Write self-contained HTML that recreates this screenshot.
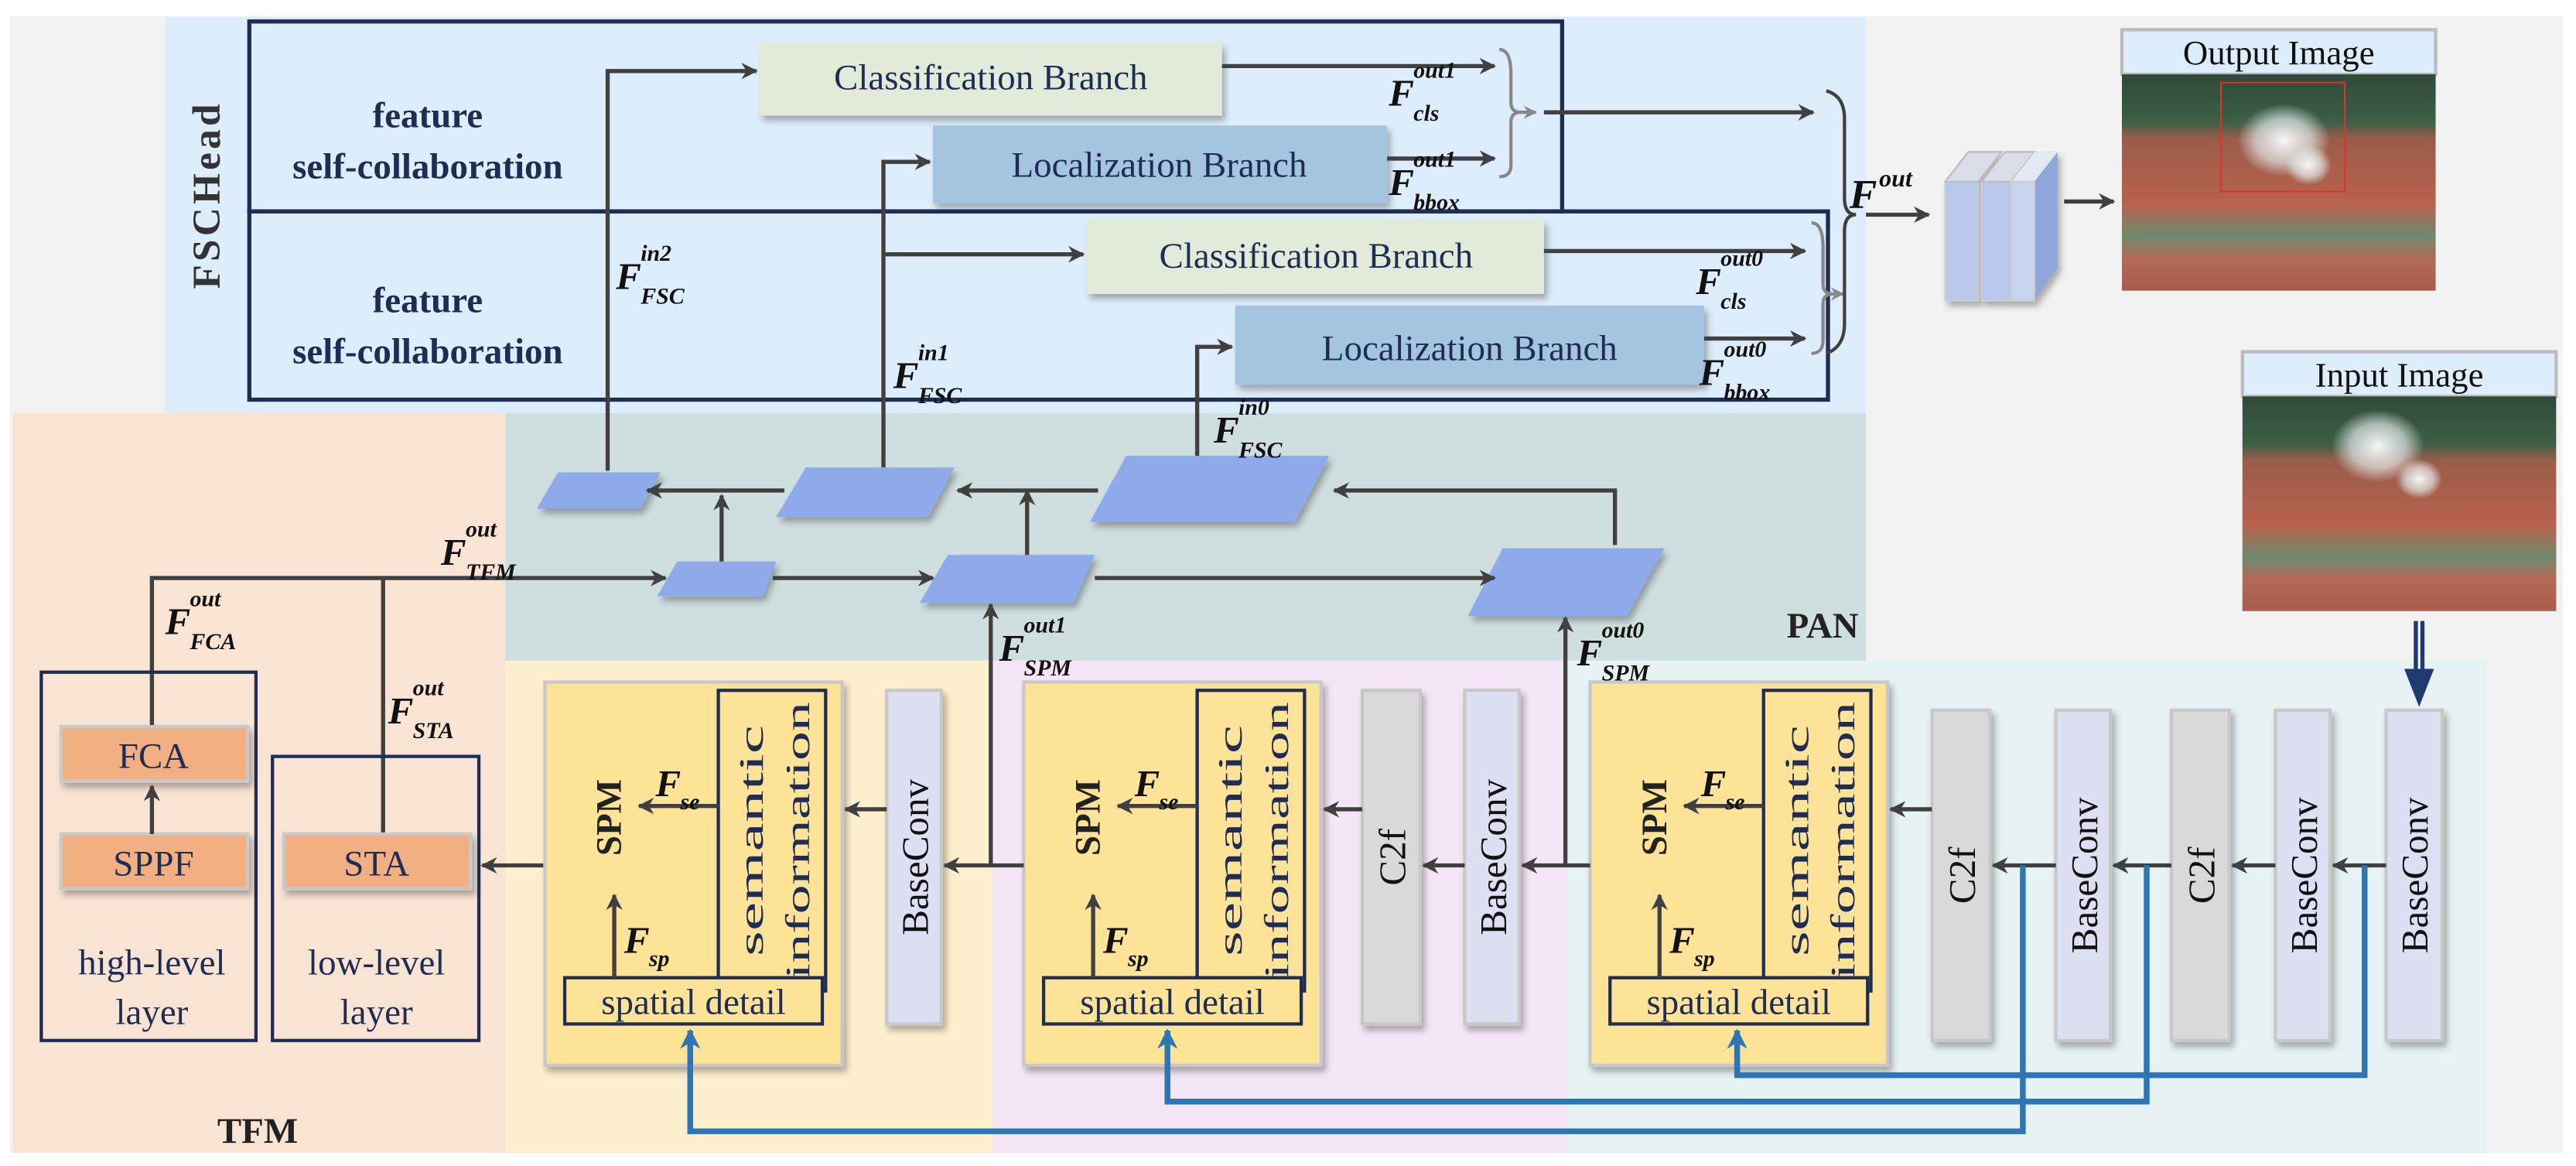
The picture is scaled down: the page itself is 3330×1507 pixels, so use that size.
<!DOCTYPE html>
<html><head><meta charset="utf-8"><style>
html,body{margin:0;padding:0;background:#fff}
svg{display:block}
svg text{font-family:"Liberation Serif","DejaVu Serif",serif}
.m{font-style:italic;font-weight:bold;fill:#111}
</style></head><body>
<svg width="3330" height="1507" viewBox="0 0 1560 706" preserveAspectRatio="none" xmlns="http://www.w3.org/2000/svg" font-family="Liberation Serif, DejaVu Serif, serif">
<defs>
<marker id="a" viewBox="0 0 10 10" refX="9" refY="5" markerWidth="4" markerHeight="4" orient="auto-start-reverse"><path d="M0,0 L10,5 L0,10 L3,5 z" fill="#404040"/></marker>
<marker id="g" viewBox="0 0 10 10" refX="9" refY="5" markerWidth="4" markerHeight="4" orient="auto"><path d="M0,0 L10,5 L0,10 L3,5 z" fill="#888"/></marker>
<marker id="b" viewBox="0 0 10 10" refX="9" refY="5" markerWidth="3.5" markerHeight="3.5" orient="auto"><path d="M0,0 L10,5 L0,10 L3,5 z" fill="#2e75b6"/></marker>
<filter id="s" x="-10%" y="-10%" width="130%" height="130%"><feDropShadow dx="2" dy="3" stdDeviation="2" flood-color="#000" flood-opacity="0.3"/></filter>
<linearGradient id="ph" x1="0" y1="0" x2="0" y2="1">
<stop offset="0" stop-color="#2f4a3a"/><stop offset="0.22" stop-color="#3c5f45"/><stop offset="0.3" stop-color="#9a5c4a"/><stop offset="0.6" stop-color="#b8624d"/><stop offset="0.75" stop-color="#6e8a6e"/><stop offset="0.85" stop-color="#b26a55"/><stop offset="1" stop-color="#a85d4d"/></linearGradient>
<radialGradient id="sm"><stop offset="0" stop-color="#fff" stop-opacity="0.95"/><stop offset="0.6" stop-color="#dfe6e6" stop-opacity="0.7"/><stop offset="1" stop-color="#dfe6e6" stop-opacity="0"/></radialGradient>
</defs>
<rect width="1560" height="706" fill="#fff"/>
<rect x="6" y="10" width="1546" height="688" fill="#f2f2f2"/>
<rect x="100" y="10" width="1030" height="240" fill="#deedfb"/>
<rect x="8" y="250" width="298" height="448" fill="#f9e4d4"/>
<rect x="306" y="250" width="824" height="150" fill="#cfdedf"/>
<rect x="306" y="400" width="295" height="298" fill="#fdf0cf"/>
<rect x="601" y="400" width="348" height="298" fill="#f4e6f6"/>
<rect x="949" y="400" width="557" height="298" fill="#e7f2f4"/>

<text transform="translate(133,118) rotate(-90)" text-anchor="middle" font-size="24" font-weight="bold" fill="#333" letter-spacing="2">FSCHead</text>

<rect x="151" y="13" width="795" height="115" fill="none" stroke="#1f2d55" stroke-width="2.5"/>
<rect x="151" y="128" width="956" height="114" fill="none" stroke="#1f2d55" stroke-width="2.5"/>
<g font-size="22" font-weight="bold" text-anchor="middle" fill="#1f2d55">
<text x="259" y="77">feature</text><text x="259" y="108">self-collaboration</text>
<text x="259" y="189">feature</text><text x="259" y="220">self-collaboration</text>
</g>
<g filter="url(#s)">
<rect x="460" y="26" width="280" height="44" fill="#e2ebda"/>
<rect x="565" y="76" width="275" height="47" fill="#a3c5df"/>
<rect x="658" y="133" width="277" height="45" fill="#e2ebda"/>
<rect x="748" y="185" width="284" height="48" fill="#a3c5df"/>
</g>
<g font-size="22" fill="#1f2d55" text-anchor="middle">
<text x="600" y="54">Classification Branch</text>
<text x="702" y="107">Localization Branch</text>
<text x="797" y="162">Classification Branch</text>
<text x="890" y="218">Localization Branch</text>
</g>
<g stroke="#404040" stroke-width="2.5" fill="none">
<path d="M368,285 V43 H458" marker-end="url(#a)"/>
<path d="M535,283 V98 H563" marker-end="url(#a)"/>
<path d="M535,154 H656" marker-end="url(#a)"/>
<path d="M725,276 V210 H746" marker-end="url(#a)"/>
<path d="M740,40 H905" marker-end="url(#a)"/>
<path d="M840,96 H905" marker-end="url(#a)"/>
<path d="M935,68 H1098" marker-end="url(#a)"/>
<path d="M935,152 H1093" marker-end="url(#a)"/>
<path d="M1032,205 H1093" marker-end="url(#a)"/>
<path d="M1130,130 H1168" marker-end="url(#a)"/>
<path d="M1250,122 H1280" marker-end="url(#a)"/>
</g>
<g stroke="#888" stroke-width="2" fill="none">
<path d="M908,30 Q915,30 915,45 V62 Q915,68 921,68 Q915,68 915,74 V100 Q915,107 908,107"/>
<path d="M921,68 H930" marker-end="url(#g)"/>
<path d="M1097,135 Q1104,135 1104,150 V172 Q1104,178 1110,178 Q1104,178 1104,184 V206 Q1104,214 1097,214"/>
<path d="M1110,178 H1116" marker-end="url(#g)"/>
</g>
<path d="M1106,55 Q1117,58 1117,72 V120 Q1117,130 1124,130 Q1117,130 1117,140 V196 Q1117,210 1106,214" stroke="#404040" stroke-width="2" fill="none"/>
<g>
<text x="841" y="64" font-size="23" class="m">F</text><text x="856" y="47" font-size="14" class="m">out1</text><text x="856" y="73" font-size="14" class="m">cls</text>
<text x="841" y="118" font-size="23" class="m">F</text><text x="856" y="101" font-size="14" class="m">out1</text><text x="856" y="127" font-size="14" class="m">bbox</text>
<text x="1027" y="178" font-size="23" class="m">F</text><text x="1042" y="161" font-size="14" class="m">out0</text><text x="1042" y="187" font-size="14" class="m">cls</text>
<text x="1029" y="233" font-size="23" class="m">F</text><text x="1044" y="216" font-size="14" class="m">out0</text><text x="1044" y="242" font-size="14" class="m">bbox</text>
<text x="1120" y="126" font-size="25" class="m">F</text><text x="1138" y="113" font-size="15" class="m">out</text>
<text x="373" y="175" font-size="23" class="m">F</text><text x="388" y="158" font-size="14" class="m">in2</text><text x="388" y="184" font-size="14" class="m">FSC</text>
<text x="541" y="235" font-size="23" class="m">F</text><text x="556" y="218" font-size="14" class="m">in1</text><text x="556" y="244" font-size="14" class="m">FSC</text>
</g>
<g filter="url(#s)">
<rect x="1178" y="110" width="20" height="72" fill="#b8c8ea" stroke="#ccc"/>
<polygon points="1178,110 1192,92 1212,92 1198,110" fill="#d8dde8" stroke="#bbb"/>
<rect x="1200" y="110" width="18" height="72" fill="#b8c8ea" stroke="#ccc"/>
<polygon points="1200,110 1214,92 1232,92 1218,110" fill="#d8dde8" stroke="#bbb"/>
<polygon points="1218,110 1232,92 1246,92 1246,162 1232,182 1218,182" fill="#8ea6da"/>
<polygon points="1218,110 1232,92 1246,92 1232,110" fill="#e3e8f5"/>
<rect x="1218" y="110" width="14" height="72" fill="#c9d5ef" stroke="#ccc"/>
</g>
<rect x="1285" y="18" width="190" height="27" fill="#deedfb" stroke="#bbb" stroke-width="2"/>
<text x="1380" y="39" font-size="21" text-anchor="middle" fill="#111">Output Image</text>
<rect x="1285" y="45" width="190" height="131" fill="url(#ph)"/>
<ellipse cx="1383" cy="85" rx="28" ry="22" fill="url(#sm)"/>
<ellipse cx="1398" cy="100" rx="14" ry="12" fill="url(#sm)"/>
<rect x="1345" y="50" width="75" height="66" fill="none" stroke="#e03030" stroke-width="1"/>
<rect x="1358" y="213" width="190" height="27" fill="#deedfb" stroke="#bbb" stroke-width="2"/>
<text x="1453" y="234" font-size="21" text-anchor="middle" fill="#111">Input Image</text>
<rect x="1358" y="240" width="190" height="130" fill="url(#ph)"/>
<ellipse cx="1440" cy="270" rx="28" ry="22" fill="url(#sm)"/>
<ellipse cx="1465" cy="290" rx="14" ry="12" fill="url(#sm)"/>
<path d="M1463,376 V408 M1467,376 V408" stroke="#1f3a6e" stroke-width="2.5"/>
<polygon points="1456,405 1474,405 1465,428" fill="#1f3a6e"/>

<g fill="#8faaea" filter="url(#s)">
<polygon points="338,286 400,286 388,308 325,308"/>
<polygon points="488,283 578,283 562,313 470,313"/>
<polygon points="682,276 805,276 784,316 660,316"/>
<polygon points="410,340 470,340 462,361 398,361"/>
<polygon points="574,336 663,336 650,365 557,365"/>
<polygon points="910,332 1008,332 985,373 889,373"/>
</g>
<text x="735" y="268" font-size="23" class="m">F</text><text x="750" y="251" font-size="14" class="m">in0</text><text x="750" y="277" font-size="14" class="m">FSC</text>
<g stroke="#404040" stroke-width="2.5" fill="none">
<path d="M978,330 V297 H808" marker-end="url(#a)"/>
<path d="M665,297 H580" marker-end="url(#a)"/>
<path d="M475,297 H392" marker-end="url(#a)"/>
<path d="M437,340 V300" marker-end="url(#a)"/>
<path d="M622,336 V297" marker-end="url(#a)"/>
<path d="M92,440 V350 H403" marker-end="url(#a)"/>
<path d="M232,505 V350"/>
<path d="M468,350 H565" marker-end="url(#a)"/>
<path d="M663,350 H905" marker-end="url(#a)"/>
<path d="M600,525 V366" marker-end="url(#a)"/>
<path d="M948,525 V374" marker-end="url(#a)"/>
</g>
<text x="1082" y="386" font-size="22" font-weight="bold" fill="#222">PAN</text>

<rect x="25" y="407" width="130" height="223" fill="none" stroke="#1f2d55" stroke-width="2"/>
<rect x="165" y="458" width="125" height="172" fill="none" stroke="#1f2d55" stroke-width="2"/>
<g filter="url(#s)" fill="#f2b082" stroke="#c8c8c8" stroke-width="2">
<rect x="37" y="440" width="113" height="33"/>
<rect x="37" y="505" width="113" height="33"/>
<rect x="172" y="505" width="113" height="33"/>
</g>
<path d="M92,505 V476" stroke="#404040" stroke-width="2.5" marker-end="url(#a)"/>
<g font-size="22" text-anchor="middle" fill="#1f2d55">
<text x="93" y="465">FCA</text><text x="93" y="530">SPPF</text><text x="228" y="530">STA</text>
<text x="92" y="590">high-level</text><text x="92" y="620">layer</text>
<text x="228" y="590">low-level</text><text x="228" y="620">layer</text>
</g>
<text x="156" y="692" font-size="22" font-weight="bold" text-anchor="middle" fill="#222">TFM</text>
<path d="M330,524 H292" stroke="#404040" stroke-width="2.5" marker-end="url(#a)"/>

<g id="spm1">
<rect x="330" y="413" width="180" height="232" fill="#fde397" stroke="#c8c8c8" stroke-width="2" filter="url(#s)"/>
<rect x="435" y="418" width="65" height="182" fill="none" stroke="#1f2d55" stroke-width="2"/>
<rect x="342" y="592" width="156" height="28" fill="#fde397" stroke="#1f2d55" stroke-width="2"/>
<text x="420" y="614" font-size="22" text-anchor="middle" fill="#1f2d55">spatial detail</text>
<text transform="translate(462,509) rotate(-90)" font-size="21" text-anchor="middle" fill="#1f2d55" textLength="140" lengthAdjust="spacingAndGlyphs">semantic</text>
<text transform="translate(490,509) rotate(-90)" font-size="21" text-anchor="middle" fill="#1f2d55" textLength="168" lengthAdjust="spacingAndGlyphs">information</text>
<text transform="translate(376,495) rotate(-90)" font-size="22" font-weight="bold" text-anchor="middle" fill="#222">SPM</text>
<path d="M435,488 H387" stroke="#404040" stroke-width="2.5" marker-end="url(#a)"/>
<path d="M372,592 V542" stroke="#404040" stroke-width="2.5" marker-end="url(#a)"/>
<text x="397" y="482" font-size="23" class="m">F</text><text x="412" y="490" font-size="14" class="m">se</text>
<text x="378" y="577" font-size="23" class="m">F</text><text x="393" y="585" font-size="14" class="m">sp</text>
</g>
<use href="#spm1" x="290"/>
<use href="#spm1" x="633"/>

<g filter="url(#s)" stroke="#c8c8c8" stroke-width="2">
<rect x="537" y="418" width="33" height="202" fill="#dde0f3"/>
<rect x="825" y="418" width="35" height="202" fill="#d9d9d9"/>
<rect x="887" y="418" width="33" height="202" fill="#dde0f3"/>
<rect x="1170" y="430" width="35" height="200" fill="#d9d9d9"/>
<rect x="1245" y="430" width="33" height="200" fill="#dde0f3"/>
<rect x="1315" y="430" width="35" height="200" fill="#d9d9d9"/>
<rect x="1378" y="430" width="33" height="200" fill="#dde0f3"/>
<rect x="1445" y="430" width="34" height="200" fill="#dde0f3"/>
</g>
<g font-size="23" text-anchor="middle" fill="#111">
<text transform="translate(562,519) rotate(-90)">BaseConv</text>
<text transform="translate(851,519) rotate(-90)">C2f</text>
<text transform="translate(912,519) rotate(-90)">BaseConv</text>
<text transform="translate(1196,530) rotate(-90)">C2f</text>
<text transform="translate(1270,530) rotate(-90)">BaseConv</text>
<text transform="translate(1341,530) rotate(-90)">C2f</text>
<text transform="translate(1403,530) rotate(-90)">BaseConv</text>
<text transform="translate(1470,530) rotate(-90)">BaseConv</text>
</g>
<g stroke="#404040" stroke-width="2.5" fill="none">
<path d="M537,490 H512" marker-end="url(#a)"/>
<path d="M620,524 H572" marker-end="url(#a)"/>
<path d="M825,490 H802" marker-end="url(#a)"/>
<path d="M887,524 H862" marker-end="url(#a)"/>
<path d="M963,524 H922" marker-end="url(#a)"/>
<path d="M1170,490 H1145" marker-end="url(#a)"/>
<path d="M1245,524 H1207" marker-end="url(#a)"/>
<path d="M1315,524 H1280" marker-end="url(#a)"/>
<path d="M1378,524 H1352" marker-end="url(#a)"/>
<path d="M1445,524 H1413" marker-end="url(#a)"/>
</g>
<g stroke="#2e75b6" stroke-width="3.5" fill="none">
<path d="M1432,524 V651 H1052 V624" marker-end="url(#b)"/>
<path d="M1300,524 V667 H707 V624" marker-end="url(#b)"/>
<path d="M1225,524 V685 H418 V624" marker-end="url(#b)"/>
</g>
<g>
<text x="267" y="342" font-size="23" class="m">F</text><text x="282" y="325" font-size="14" class="m">out</text><text x="282" y="351" font-size="14" class="m">TFM</text>
<text x="100" y="384" font-size="23" class="m">F</text><text x="115" y="367" font-size="14" class="m">out</text><text x="115" y="393" font-size="14" class="m">FCA</text>
<text x="235" y="438" font-size="23" class="m">F</text><text x="250" y="421" font-size="14" class="m">out</text><text x="250" y="447" font-size="14" class="m">STA</text>
<text x="605" y="400" font-size="23" class="m">F</text><text x="620" y="383" font-size="14" class="m">out1</text><text x="620" y="409" font-size="14" class="m">SPM</text>
<text x="955" y="403" font-size="23" class="m">F</text><text x="970" y="386" font-size="14" class="m">out0</text><text x="970" y="412" font-size="14" class="m">SPM</text>
</g>
</svg>
</body></html>
